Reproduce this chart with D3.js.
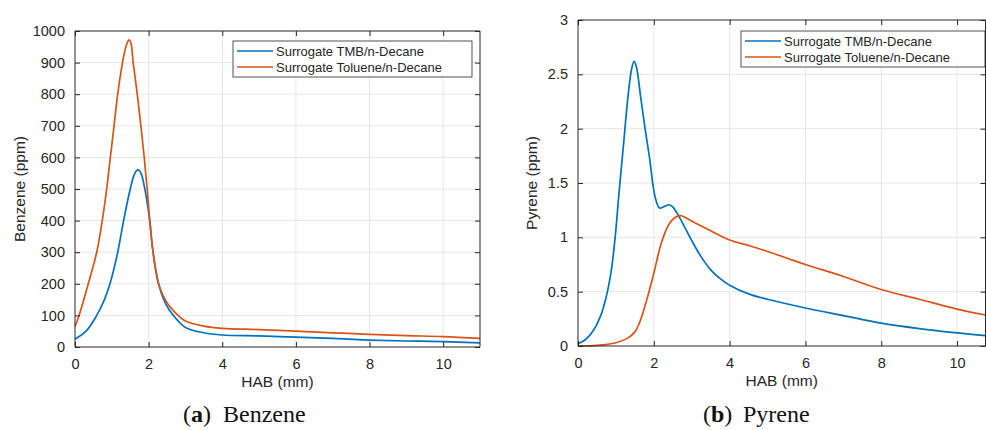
<!DOCTYPE html>
<html>
<head>
<meta charset="utf-8">
<title>Benzene / Pyrene</title>
<script src="https://cdn.jsdelivr.net/npm/d3@7"></script>
<style>
  body { margin: 0; background: #fff; }
  text { font-family: "Liberation Sans", Arial, sans-serif; fill: #262626; }
  text.cap { font-family: "Liberation Serif", "DejaVu Serif", serif; fill: #111; }
</style>
</head>
<body>
<script>
// series names
var seriesNames = ["Surrogate TMB/n-Decane", "Surrogate Toluene/n-Decane"];
var colors = ["#0072BD", "#D95319"];

// (a) Benzene, HAB (mm) vs ppm
var benzTmbX = [0, 0.3, 0.59, 0.8, 0.95, 1.16, 1.32, 1.5, 1.6, 1.67, 1.73, 1.8, 1.88, 1.95, 2.03, 2.12, 2.27, 2.45, 2.67, 3, 3.5, 4, 5, 6, 7, 8, 9, 10, 11];
var benzTmbY = [25, 50, 100, 150, 200, 300, 400, 500, 543, 558, 560, 548, 510, 465, 400, 300, 200, 140, 100, 62, 45, 38, 35, 31, 27, 22, 19, 17, 13];
var benzTolX = [0, 0.11, 0.36, 0.59, 0.74, 0.86, 0.96, 1.06, 1.16, 1.29, 1.37, 1.43, 1.47, 1.52, 1.58, 1.69, 1.79, 1.88, 1.96, 2.03, 2.12, 2.27, 2.5, 2.8, 3, 3.5, 4, 5, 6, 7, 8, 9, 10, 11];
var benzTolY = [65, 100, 200, 300, 400, 500, 600, 700, 800, 900, 945, 966, 972, 962, 900, 800, 700, 600, 500, 400, 300, 200, 140, 100, 82, 66, 59, 55, 50, 45, 40, 36, 33, 27.5];

// (b) Pyrene
var pyrTmbX = [0, 0.2, 0.4, 0.6, 0.75, 0.88, 0.98, 1.08, 1.2, 1.32, 1.42, 1.48, 1.54, 1.65, 1.77, 1.9, 1.97, 2.05, 2.15, 2.28, 2.4, 2.5, 2.6, 2.7, 2.85, 3.0, 3.25, 3.5, 3.75, 4.0, 4.5, 5, 6, 7, 8, 9, 10, 10.75];
var pyrTmbY = [0.02, 0.06, 0.14, 0.28, 0.46, 0.7, 1.0, 1.4, 1.85, 2.3, 2.56, 2.62, 2.57, 2.3, 2.0, 1.7, 1.5, 1.35, 1.27, 1.285, 1.30, 1.28, 1.23, 1.17, 1.07, 0.97, 0.82, 0.70, 0.62, 0.56, 0.48, 0.43, 0.35, 0.28, 0.21, 0.16, 0.12, 0.095];
var pyrTolX = [0, 0.5, 1.0, 1.3, 1.5, 1.65, 1.81, 2.0, 2.2, 2.4, 2.55, 2.7, 2.85, 3.0, 3.5, 4, 4.5, 5, 5.5, 6, 7, 8, 9, 10, 10.75];
var pyrTolY = [0, 0.005, 0.03, 0.07, 0.13, 0.24, 0.42, 0.67, 0.95, 1.12, 1.18, 1.2, 1.18, 1.15, 1.06, 0.975, 0.925, 0.87, 0.81, 0.75, 0.64, 0.52, 0.43, 0.34, 0.285];

var xTicks = [0, 2, 4, 6, 8, 10];
var benzTicks = [0, 100, 200, 300, 400, 500, 600, 700, 800, 900, 1000];
var pyrTicks = [0, 0.5, 1, 1.5, 2, 2.5, 3];

var svg = d3.select("body").append("svg")
  .attr("width", 986)
  .attr("height", 430);

function zip(xs, ys) {
  return xs.map(function(x, i) { return [x, ys[i]]; });
}

function panel(opt) {
  var x = d3.scaleLinear().domain(opt.xDomain).range([opt.left, opt.right]);
  var y = d3.scaleLinear().domain(opt.yDomain).range([opt.bottom, opt.top]);
  var g = svg.append("g");

  // grid
  g.selectAll(".gx").data(opt.xTicks.filter(function(d) { return d > opt.xDomain[0]; }))
    .enter().append("line")
    .attr("x1", function(d) { return x(d); }).attr("x2", function(d) { return x(d); })
    .attr("y1", opt.top).attr("y2", opt.bottom)
    .attr("stroke", "#e6e6e6");
  g.selectAll(".gy").data(opt.yTicks.filter(function(d) { return d > opt.yDomain[0] && d < opt.yDomain[1]; }))
    .enter().append("line")
    .attr("x1", opt.left).attr("x2", opt.right)
    .attr("y1", function(d) { return y(d); }).attr("y2", function(d) { return y(d); })
    .attr("stroke", "#e6e6e6");

  // lines
  var line = d3.line()
    .x(function(d) { return x(d[0]); })
    .y(function(d) { return y(d[1]); })
    .curve(d3.curveCatmullRom.alpha(0.5));
  opt.series.forEach(function(s, i) {
    g.append("path")
      .datum(s)
      .attr("fill", "none")
      .attr("stroke", colors[i])
      .attr("stroke-width", 1.7)
      .attr("d", line);
  });

  // axes (box with inward ticks)
  var ax = g.append("g").attr("transform", "translate(0," + opt.bottom + ")")
    .call(d3.axisBottom(x).tickValues(opt.xTicks).tickSize(-5).tickPadding(12).tickFormat(d3.format("d")));
  var axTop = g.append("g").attr("transform", "translate(0," + opt.top + ")")
    .call(d3.axisTop(x).tickValues(opt.xTicks).tickSize(-5).tickFormat(""));
  var ay = g.append("g").attr("transform", "translate(" + opt.left + ",0)")
    .call(d3.axisLeft(y).tickValues(opt.yTicks).tickSize(-5).tickPadding(10).tickFormat(d3.format("")));
  var ayR = g.append("g").attr("transform", "translate(" + opt.right + ",0)")
    .call(d3.axisRight(y).tickValues(opt.yTicks).tickSize(-5).tickFormat(""));
  [ax, axTop, ay, ayR].forEach(function(a) {
    a.select(".domain").attr("stroke", "#262626").attr("stroke-width", 1);
    a.selectAll(".tick line").attr("stroke", "#262626");
    a.selectAll(".tick text").attr("font-size", 14.5).attr("fill", "#262626")
      .style("font-family", "Liberation Sans, Arial, sans-serif");
  });
  axTop.select(".domain").attr("d", "M" + opt.left + ",0H" + opt.right);
  ayR.select(".domain").attr("d", "M0," + opt.top + "V" + opt.bottom);
  ax.select(".domain").attr("d", "M" + opt.left + ",0H" + opt.right);
  ay.select(".domain").attr("d", "M0," + opt.top + "V" + opt.bottom);

  // axis labels
  g.append("text")
    .attr("x", (opt.left + opt.right) / 2).attr("y", opt.bottom + 40)
    .attr("text-anchor", "middle").attr("font-size", 15.5)
    .text("HAB (mm)");
  g.append("text")
    .attr("transform", "translate(" + opt.yLabelX + "," + (opt.top + opt.bottom) / 2 + ") rotate(-90)")
    .attr("text-anchor", "middle").attr("font-size", 15.5)
    .text(opt.yLabel);

  // legend
  var lg = g.append("g").attr("transform", "translate(" + opt.legX + "," + opt.legY + ")");
  lg.append("rect").attr("width", opt.legW).attr("height", 36)
    .attr("fill", "#fff").attr("stroke", "#262626").attr("stroke-width", 0.8);
  seriesNames.forEach(function(n, i) {
    var yy = 10 + i * 16;
    lg.append("line").attr("x1", 4).attr("x2", 40).attr("y1", yy).attr("y2", yy)
      .attr("stroke", colors[i]).attr("stroke-width", 1.7);
    lg.append("text").attr("x", 43).attr("y", yy + 4.7).attr("font-size", 13).text(n);
  });

  // caption
  var cap = g.append("text").attr("class", "cap")
    .attr("x", opt.capX).attr("y", 422).attr("font-size", 24);
  cap.append("tspan").text("(");
  cap.append("tspan").attr("font-weight", "bold").text(opt.capLetter);
  cap.append("tspan").text(")");
  g.append("text").attr("class", "cap")
    .attr("x", opt.capX + 40).attr("y", 422).attr("font-size", 24)
    .text(opt.capText);
}

panel({
  left: 75, right: 480, top: 31, bottom: 347,
  xDomain: [0, 11], yDomain: [0, 1000],
  xTicks: xTicks, yTicks: benzTicks,
  series: [zip(benzTmbX, benzTmbY), zip(benzTolX, benzTolY)],
  yLabel: "Benzene (ppm)", yLabelX: 25,
  legX: 233, legY: 41, legW: 239,
  capX: 183, capLetter: "a", capText: "Benzene"
});

panel({
  left: 578, right: 985.5, top: 20, bottom: 346,
  xDomain: [0, 10.75], yDomain: [0, 3],
  xTicks: xTicks, yTicks: pyrTicks,
  series: [zip(pyrTmbX, pyrTmbY), zip(pyrTolX, pyrTolY)],
  yLabel: "Pyrene (ppm)", yLabelX: 537,
  legX: 741, legY: 31, legW: 244,
  capX: 703, capLetter: "b", capText: "Pyrene"
});
</script>
</body>
</html>
